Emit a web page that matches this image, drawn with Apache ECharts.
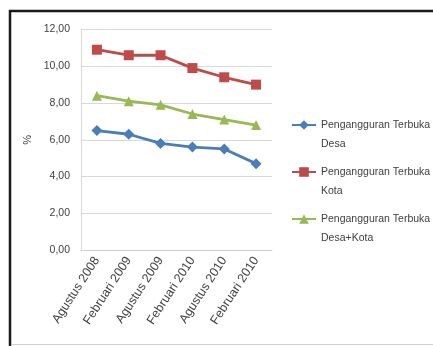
<!DOCTYPE html>
<html>
<head>
<meta charset="utf-8">
<script src="https://cdn.jsdelivr.net/npm/echarts@6/dist/echarts.min.js"></script>
<style>
  html, body { margin: 0; padding: 0; background: #ffffff; }
  #chart { width: 433px; height: 346px; }
</style>
</head>
<body>
<div id="chart"></div>
<script>
// Periods (Sakernas survey rounds)
const periods = ['Agustus 2008', 'Februari 2009', 'Agustus 2009', 'Februari 2010', 'Agustus 2010', 'Februari 2010'];

// Open unemployment rate, %
const desa = [6.5, 6.3, 5.8, 5.6, 5.5, 4.7];
const kota = [10.9, 10.6, 10.6, 9.9, 9.4, 9.0];
const desaKota = [8.4, 8.1, 7.9, 7.4, 7.1, 6.8];

const seriesNames = ['Pengangguran Terbuka Desa', 'Pengangguran Terbuka Kota', 'Pengangguran Terbuka Desa+Kota'];

const FONT = '"Liberation Sans Narrow", "Liberation Sans", Lato, sans-serif';

const chart = echarts.init(document.getElementById('chart'), null, { renderer: 'canvas' });

function lineSeries(name, data, color, symbol, size) {
  return {
    name: name,
    type: 'line',
    data: data,
    symbol: symbol,
    symbolSize: size,
    lineStyle: { color: color, width: 2.8 },
    itemStyle: { color: color },
    emphasis: { disabled: true },
    animation: false
  };
}

// Legend labels wrap after "Terbuka"; a leading empty line keeps the
// symbol level with the first line of the label.
function legendLabel(name) {
  const cut = name.indexOf('Terbuka') + 'Terbuka'.length;
  return '\n' + name.slice(0, cut) + '\n' + name.slice(cut + 1);
}

chart.setOption({
  animation: false,
  backgroundColor: '#ffffff',
  textStyle: { fontFamily: FONT },
  grid: { left: 81, right: 161, top: 29.5, bottom: 96, containLabel: false },
  xAxis: {
    type: 'category',
    data: periods,
    boundaryGap: true,
    axisLine: { lineStyle: { color: '#d0d0d0', width: 1 } },
    axisTick: { show: false },
    axisLabel: {
      rotate: 57,
      color: '#404040',
      fontSize: 12.5,
      fontFamily: FONT,
      margin: 8,
      interval: 0
    },
    splitLine: { show: false }
  },
  yAxis: {
    type: 'value',
    min: 0,
    max: 12,
    interval: 2,
    name: '%',
    nameLocation: 'middle',
    nameRotate: 90,
    nameGap: 48,
    nameTextStyle: { color: '#404040', fontSize: 11, fontFamily: FONT },
    axisLine: { show: true, lineStyle: { color: '#d8d8d8', width: 1 } },
    axisTick: { show: false },
    axisLabel: {
      color: '#404040',
      fontSize: 10.5,
      fontFamily: FONT,
      margin: 11,
      formatter: v => v.toFixed(2).replace('.', ',')
    },
    splitLine: { lineStyle: { color: '#d8d8d8', width: 1 } }
  },
  legend: {
    orient: 'vertical',
    left: 286,
    top: 91.5,
    itemWidth: 24,
    itemHeight: 12,
    itemGap: -10,
    selectedMode: false,
    formatter: legendLabel,
    textStyle: {
      color: '#404040',
      fontSize: 10.5,
      fontFamily: FONT,
      lineHeight: 19
    },
    data: seriesNames
  },
  series: [
    lineSeries(seriesNames[0], desa, '#4a7ebb', 'diamond', 11),
    lineSeries(seriesNames[1], kota, '#be4b48', 'rect', 10),
    lineSeries(seriesNames[2], desaKota, '#98b954', 'triangle', 10)
  ],
  graphic: [
    {
      type: 'polyline',
      silent: true,
      shape: { points: [[10, 346], [10, 11], [433, 11]] },
      style: { stroke: '#1a1a1a', lineWidth: 2.5, fill: null }
    },
    {
      type: 'line',
      silent: true,
      shape: { x1: 11, y1: 344.5, x2: 433, y2: 344.5 },
      style: { stroke: '#d0d0d0', lineWidth: 1 }
    }
  ]
});
</script>
</body>
</html>
